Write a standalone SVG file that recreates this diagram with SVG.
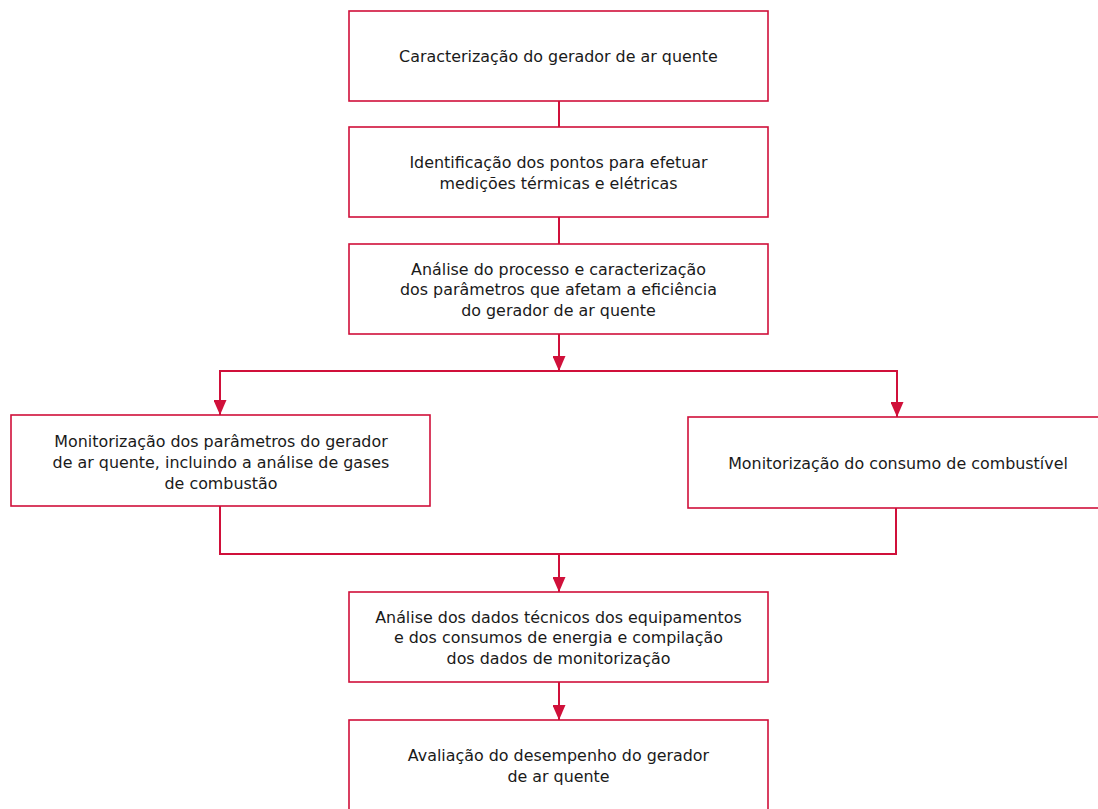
<svg xmlns="http://www.w3.org/2000/svg" width="1098" height="809" viewBox="0 0 1098 809">
  <style>
    .box { fill: #ffffff; stroke: #d0103a; stroke-width: 1.6; }
    .wire { fill: none; stroke: #d0103a; stroke-width: 2; }
    .label { font-family: "DejaVu Sans", "Liberation Sans", sans-serif; font-size: 15.9px; fill: #1a1a1a; text-anchor: middle; }
  </style>
  <defs>
    <marker id="arrow" viewBox="0 0 15 13" refX="15" refY="6.5" markerWidth="15" markerHeight="13" markerUnits="userSpaceOnUse" orient="auto">
      <path d="M0,0 L15,6.5 L0,13 Z" fill="#d0103a"/>
    </marker>
  </defs>
  <rect width="1098" height="809" fill="#ffffff"/>

  <g id="connectors">
    <line class="wire" x1="559" y1="101" x2="559" y2="127"/>
    <line class="wire" x1="559" y1="217" x2="559" y2="244"/>
    <line class="wire" x1="559" y1="334" x2="559" y2="371" marker-end="url(#arrow)"/>
    <polyline class="wire" points="220,415 220,371 897,371 897,417" marker-end="url(#arrow)"/>
    <line class="wire" x1="220" y1="371" x2="220" y2="415" marker-end="url(#arrow)"/>
    <polyline class="wire" points="220,506 220,554 896,554 896,508"/>
    <line class="wire" x1="559" y1="554" x2="559" y2="592" marker-end="url(#arrow)"/>
    <line class="wire" x1="559" y1="682" x2="559" y2="720" marker-end="url(#arrow)"/>
  </g>

  <g id="node-caracterizacao">
    <rect class="box" x="349" y="11" width="419" height="90"/>
    <text class="label" x="558.5" y="61.5">Caracterização do gerador de ar quente</text>
  </g>

  <g id="node-identificacao">
    <rect class="box" x="349" y="127" width="419" height="90"/>
    <text class="label" x="558.5" y="167.5">Identificação dos pontos para efetuar</text>
    <text class="label" x="558.5" y="188.5">medições térmicas e elétricas</text>
  </g>

  <g id="node-analise-processo">
    <rect class="box" x="349" y="244" width="419" height="90"/>
    <text class="label" x="558.5" y="274.5">Análise do processo e caracterização</text>
    <text class="label" x="558.5" y="295">dos parâmetros que afetam a eficiência</text>
    <text class="label" x="558.5" y="315.5">do gerador de ar quente</text>
  </g>

  <g id="node-monitorizacao-parametros">
    <rect class="box" x="11" y="415" width="419" height="91"/>
    <text class="label" x="221" y="446.5">Monitorização dos parâmetros do gerador</text>
    <text class="label" x="221" y="467.5">de ar quente, incluindo a análise de gases</text>
    <text class="label" x="221" y="488.5">de combustão</text>
  </g>

  <g id="node-monitorizacao-consumo">
    <rect class="box" x="688" y="417" width="419" height="91"/>
    <text class="label" x="898" y="468.5">Monitorização do consumo de combustível</text>
  </g>

  <g id="node-analise-dados">
    <rect class="box" x="349" y="592" width="419" height="90"/>
    <text class="label" x="558.5" y="622.5">Análise dos dados técnicos dos equipamentos</text>
    <text class="label" x="558.5" y="643">e dos consumos de energia e compilação</text>
    <text class="label" x="558.5" y="663.5">dos dados de monitorização</text>
  </g>

  <g id="node-avaliacao">
    <rect class="box" x="349" y="720" width="419" height="100"/>
    <text class="label" x="558.5" y="760.5">Avaliação do desempenho do gerador</text>
    <text class="label" x="558.5" y="781.5">de ar quente</text>
  </g>
</svg>
